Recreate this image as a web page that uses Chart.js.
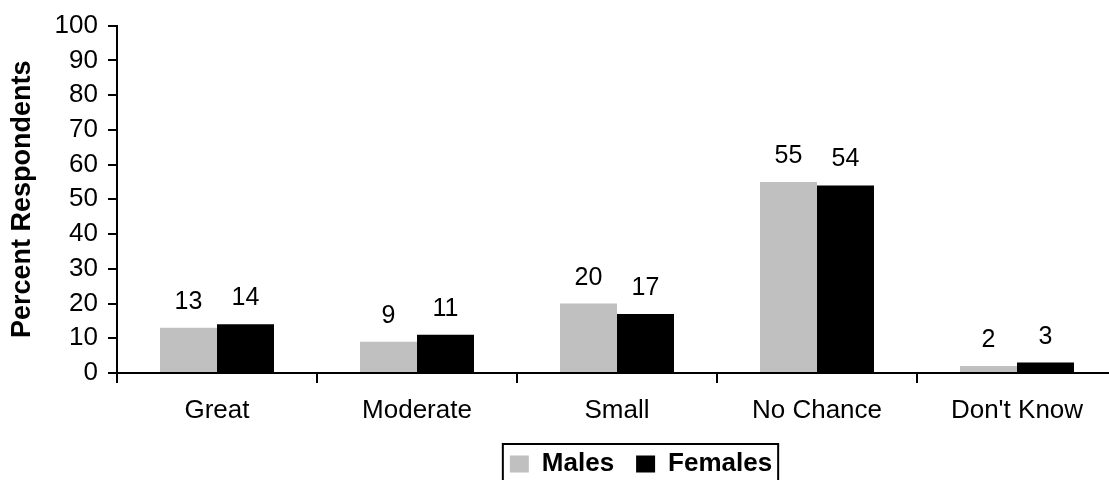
<!DOCTYPE html>
<html>
<head>
<meta charset="utf-8">
<script src="https://cdn.jsdelivr.net/npm/chart.js@4"></script>
<style>
html, body { margin: 0; padding: 0; background: #fff; overflow: hidden; width: 1109px; height: 480px; }
#wrap { position: relative; width: 1120px; height: 487px; }
</style>
</head>
<body>
<div id="wrap"><canvas id="chart"></canvas></div>
<script>
// Datos del gráfico
const categories = ['Great', 'Moderate', 'Small', 'No Chance', "Don't Know"];
const males = [13, 9, 20, 55, 2];
const females = [14, 11, 17, 54, 3];
const seriesNames = ['Males', 'Females'];
const yTitle = 'Percent Respondents';

const FONT = "'Liberation Sans', Arial, sans-serif";
Chart.defaults.font.family = FONT;
Chart.defaults.color = '#000';

// Etiquetas de valor encima de cada barra
const valueLabels = {
    id: 'valueLabels',
    afterDatasetsDraw(chart) {
        const ctx = chart.ctx;
        ctx.save();
        ctx.font = '25px ' + FONT;
        ctx.fillStyle = '#000';
        ctx.textAlign = 'center';
        ctx.textBaseline = 'alphabetic';
        chart.data.datasets.forEach((ds, i) => {
            chart.getDatasetMeta(i).data.forEach((bar, j) => {
                ctx.fillText(String(ds.data[j]), bar.x, bar.y - 19);
            });
        });
        ctx.restore();
    }
};

// Leyenda desplazada y con marco
const legendFrame = {
    id: 'legendFrame',
    beforeDraw(chart) {
        const lg = chart.legend;
        if (!lg || !lg.legendHitBoxes.length) return;
        const hb = lg.legendHitBoxes;
        const mid = (hb[0].left + hb[hb.length - 1].left + hb[hb.length - 1].width) / 2;
        const delta = 641 - mid;
        if (Math.abs(delta) > 0.5) {
            lg.left += delta;
            lg.right += delta;
            // adjustHitBoxes suma otra vez el top, así que se guarda antes
            const tops = hb.map(h => h.top);
            lg.adjustHitBoxes();
            hb.forEach((h, k) => { h.top = tops[k]; });
        }
    },
    afterDraw(chart) {
        const lg = chart.legend;
        if (!lg || !lg.legendHitBoxes.length) return;
        const hb = lg.legendHitBoxes;
        const left = hb[0].left - 7;
        const right = hb[hb.length - 1].left + hb[hb.length - 1].width + 6;
        const top = lg.top + lg.options.labels.padding + 13 - 20;
        const ctx = chart.ctx;
        ctx.save();
        ctx.strokeStyle = '#000';
        ctx.lineWidth = 2;
        ctx.strokeRect(left, top, right - left, 60);
        ctx.restore();
    }
};

const chart = new Chart(document.getElementById('chart'), {
    type: 'bar',
    data: {
        labels: categories,
        datasets: [{
            label: seriesNames[0],
            data: males,
            backgroundColor: '#c0c0c0',
            borderWidth: 0
        }, {
            label: seriesNames[1],
            data: females,
            backgroundColor: '#000000',
            borderWidth: 0
        }]
    },
    options: {
        responsive: true,
        maintainAspectRatio: false,
        animation: false,
        layout: { padding: { left: 0, right: 3, top: 25, bottom: 0 } },
        datasets: {
            bar: { categoryPercentage: 0.57, barPercentage: 1 }
        },
        scales: {
            x: {
                grid: {
                    offset: true,
                    drawOnChartArea: false,
                    drawTicks: true,
                    tickLength: 10,
                    color: '#000',
                    lineWidth: 2
                },
                border: { color: '#000', width: 2 },
                ticks: { font: { size: 26 }, padding: 12, maxRotation: 0 },
                afterFit(scale) { scale.height = 56; }
            },
            y: {
                min: 0,
                max: 100,
                grid: {
                    drawOnChartArea: false,
                    drawTicks: true,
                    tickLength: 9,
                    color: '#000',
                    lineWidth: 2
                },
                border: { color: '#000', width: 2 },
                ticks: { stepSize: 10, font: { size: 26 }, padding: 10 },
                title: {
                    display: true,
                    text: yTitle,
                    font: { size: 27, weight: 'bold' },
                    padding: { top: 6, bottom: 0 }
                },
                afterFit(scale) { scale.width = 117; }
            }
        },
        plugins: {
            legend: {
                position: 'bottom',
                labels: {
                    boxWidth: 19,
                    boxHeight: 17,
                    padding: 22,
                    font: { size: 26, weight: 'bold' },
                    color: '#000'
                }
            },
            tooltip: { enabled: false }
        }
    },
    plugins: [valueLabels, legendFrame]
});
</script>
</body>
</html>
